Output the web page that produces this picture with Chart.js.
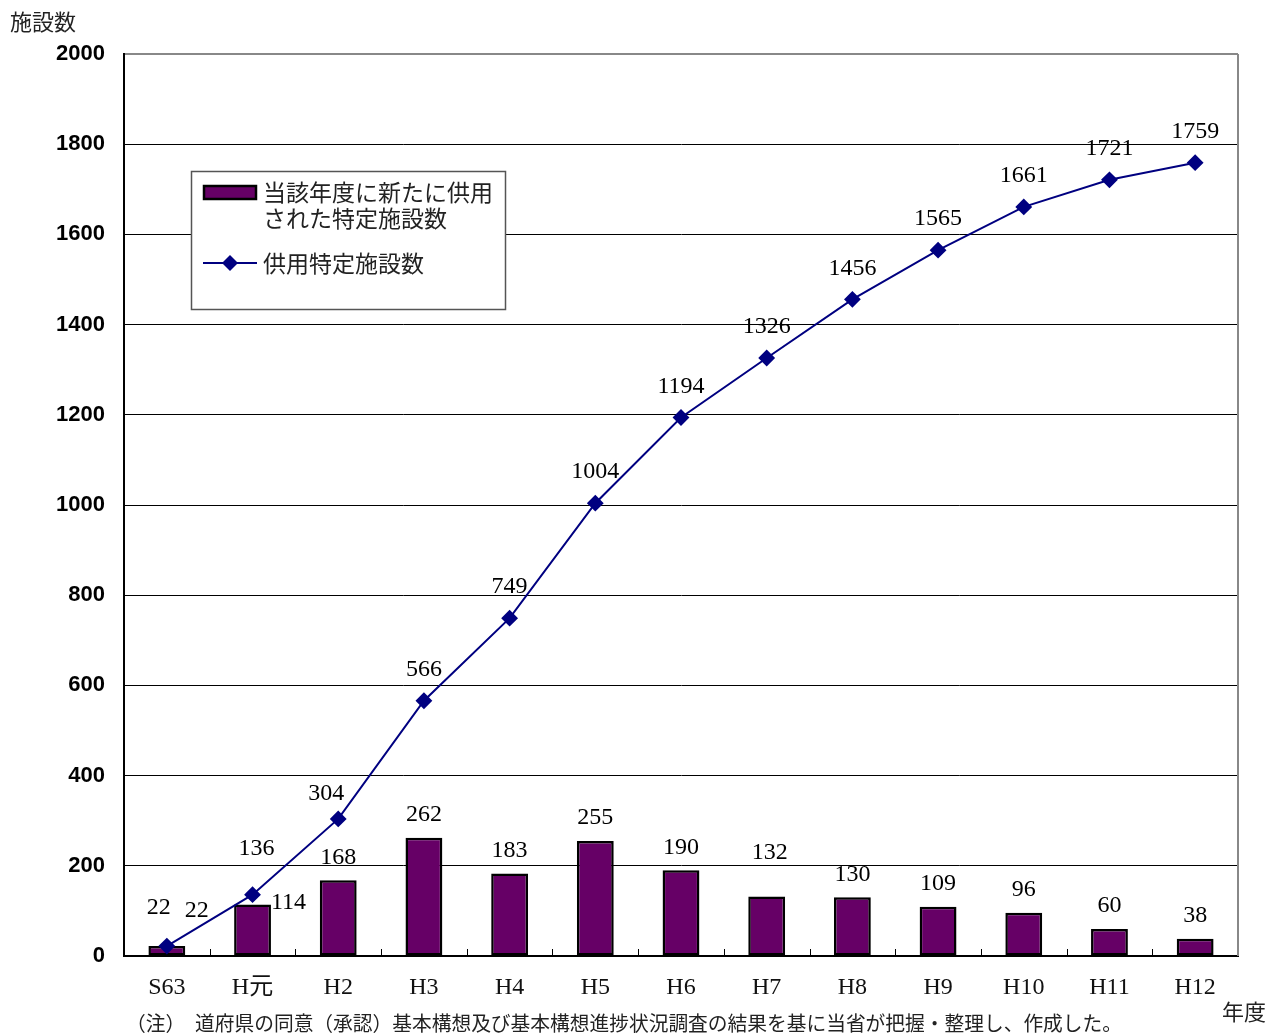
<!DOCTYPE html>
<html lang="ja">
<head>
<meta charset="utf-8">
<title>供用特定施設数</title>
<script src="https://cdn.jsdelivr.net/npm/chart.js@4/dist/chart.umd.min.js"></script>
<style>
  html, body { margin: 0; padding: 0; background: #fff; }
  #chart { display: block; }
</style>
</head>
<body>
<canvas id="chart" width="1269" height="1034"></canvas>
<script>
/* ======================================================================
Data
====================================================================== */
const years = ['S63', 'H元', 'H2', 'H3', 'H4', 'H5', 'H6', 'H7', 'H8', 'H9', 'H10', 'H11', 'H12'];
const newFacilities = [22, 114, 168, 262, 183, 255, 190, 132, 130, 109, 96, 60, 38];
const totalFacilities = [22, 136, 304, 566, 749, 1004, 1194, 1326, 1456, 1565, 1661, 1721, 1759];
const yTicks = [0, 200, 400, 600, 800, 1000, 1200, 1400, 1600, 1800, 2000];

const barLegend = ['当該年度に新たに供用', 'された特定施設数'];
const lineLegend = '供用特定施設数';
const yTitle = '施設数';
const xTitle = '年度';
const note = '（注）　道府県の同意（承認）基本構想及び基本構想進捗状況調査の結果を基に当省が把握・整理し、作成した。';

/* ======================================================================
Styles
====================================================================== */
const SERIF = '"Liberation Serif", "Noto Sans CJK JP", serif';
const JP = '"Noto Sans CJK JP", sans-serif';
const BAR_COLOR = '#660066';
const LINE_COLOR = '#000080';

// label offsets (dx, dy) from the mark, where the defaults would collide
const lineLabelOffsets = {0: [-8, -38], 1: [4, -46], 2: [-12, -25]};
const barLabelOffsets = {0: [30, -35], 1: [36, -2], 7: [3, -44]};

/* ======================================================================
Plugins
====================================================================== */
const whiteBg = {
  id: 'whiteBg',
  beforeDraw(chart) {
    const ctx = chart.ctx;
    ctx.save();
    ctx.fillStyle = '#fff';
    ctx.fillRect(0, 0, chart.width, chart.height);
    ctx.restore();
  }
};

const frame = {
  id: 'frame',
  beforeDatasetsDraw(chart) {
    const {ctx, chartArea: a, scales: {x}} = chart;
    ctx.save();
    // right border, gray
    ctx.strokeStyle = '#888';
    ctx.lineWidth = 2;
    ctx.beginPath();
    ctx.moveTo(a.right, a.top);
    ctx.lineTo(a.right, a.bottom);
    ctx.stroke();
    // small ticks between categories, pointing up
    ctx.strokeStyle = '#000';
    ctx.lineWidth = 1;
    for (let i = 1; i < years.length; i++) {
      const px = Math.round((x.getPixelForValue(i - 1) + x.getPixelForValue(i)) / 2) + 0.5;
      ctx.beginPath();
      ctx.moveTo(px, a.bottom);
      ctx.lineTo(px, a.bottom - 7);
      ctx.stroke();
    }
    ctx.restore();
  }
};

const valueLabels = {
  id: 'valueLabels',
  afterDatasetsDraw(chart) {
    const ctx = chart.ctx;
    ctx.save();
    ctx.font = '24px ' + SERIF;
    ctx.fillStyle = '#000';
    ctx.textAlign = 'center';
    ctx.textBaseline = 'middle';
    chart.getDatasetMeta(0).data.forEach((el, i) => {
      const [dx, dy] = barLabelOffsets[i] || [0, -23];
      ctx.fillText(String(newFacilities[i]), el.x + dx, el.y + dy);
    });
    chart.getDatasetMeta(1).data.forEach((el, i) => {
      const [dx, dy] = lineLabelOffsets[i] || [0, -31];
      ctx.fillText(String(totalFacilities[i]), el.x + dx, el.y + dy);
    });
    ctx.restore();
  }
};

const legendBox = {
  id: 'legendBox',
  afterDraw(chart) {
    const ctx = chart.ctx;
    ctx.save();
    ctx.fillStyle = '#fff';
    ctx.fillRect(191, 171, 314, 138);
    ctx.strokeStyle = '#555';
    ctx.lineWidth = 1.5;
    ctx.strokeRect(191.5, 171.5, 314, 138);
    // bar swatch
    ctx.fillStyle = BAR_COLOR;
    ctx.fillRect(204, 186, 52, 13);
    ctx.strokeStyle = '#000';
    ctx.lineWidth = 2.5;
    ctx.strokeRect(204, 186, 52, 13);
    // line swatch
    ctx.strokeStyle = LINE_COLOR;
    ctx.lineWidth = 2;
    ctx.beginPath();
    ctx.moveTo(203, 263);
    ctx.lineTo(257, 263);
    ctx.stroke();
    ctx.fillStyle = LINE_COLOR;
    ctx.beginPath();
    ctx.moveTo(230, 255);
    ctx.lineTo(238, 263);
    ctx.lineTo(230, 271);
    ctx.lineTo(222, 263);
    ctx.closePath();
    ctx.fill();
    // texts
    ctx.fillStyle = '#222';
    ctx.font = '23px ' + JP;
    ctx.textBaseline = 'middle';
    ctx.textAlign = 'left';
    ctx.fillText(barLegend[0], 263, 192, 235);
    ctx.fillText(barLegend[1], 263, 218);
    ctx.fillText(lineLegend, 263, 263);
    ctx.restore();
  }
};

const titles = {
  id: 'titles',
  afterDraw(chart) {
    const ctx = chart.ctx;
    ctx.save();
    ctx.fillStyle = '#222';
    ctx.textBaseline = 'middle';
    ctx.font = '22px ' + JP;
    ctx.textAlign = 'left';
    ctx.fillText(yTitle, 10, 22);
    ctx.fillText(xTitle, 1222, 1012);
    ctx.font = '20px ' + JP;
    ctx.fillText(note, 126, 1023, 996);
    ctx.restore();
  }
};

/* ======================================================================
Chart
====================================================================== */
const canvas = document.getElementById('chart');
new Chart(canvas, {
  data: {
    labels: years,
    datasets: [{
      type: 'bar',
      label: barLegend.join(''),
      data: newFacilities,
      backgroundColor: BAR_COLOR,
      borderColor: '#000',
      borderWidth: 2.5,
      borderSkipped: false,
      barPercentage: 0.43,
      categoryPercentage: 1,
      order: 2
    }, {
      type: 'line',
      label: lineLegend,
      data: totalFacilities,
      borderColor: LINE_COLOR,
      borderWidth: 2,
      backgroundColor: LINE_COLOR,
      pointStyle: 'rectRot',
      pointRadius: 7,
      pointBackgroundColor: LINE_COLOR,
      pointBorderColor: LINE_COLOR,
      tension: 0,
      order: 1
    }]
  },
  options: {
    responsive: false,
    animation: false,
    devicePixelRatio: 1,
    layout: { padding: { top: 54, right: 31, left: 0, bottom: 0 } },
    plugins: {
      legend: { display: false },
      tooltip: { enabled: false }
    },
    scales: {
      x: {
        offset: true,
        grid: { display: false },
        border: { color: '#000', width: 2 },
        ticks: { color: '#111', font: { family: SERIF, size: 24 }, padding: 9 },
        afterFit(scale) { scale.height = 78; }
      },
      y: {
        min: 0,
        max: 2000,
        afterBuildTicks(scale) { scale.ticks = yTicks.map(v => ({value: v})); },
        grid: {
          color: c => (c.tick && c.tick.value === 2000 ? '#888' : '#000'),
          lineWidth: c => (c.tick && c.tick.value === 2000 ? 2 : 1),
          drawTicks: false
        },
        border: { color: '#000', width: 2 },
        ticks: {
          color: '#000',
          font: { family: '"Liberation Sans", Arial, sans-serif', size: 22, weight: 'bold' },
          padding: 19,
          callback: v => String(v)
        },
        afterFit(scale) { scale.width = 124; }
      }
    }
  },
  plugins: [whiteBg, frame, valueLabels, legendBox, titles]
});
</script>
</body>
</html>
